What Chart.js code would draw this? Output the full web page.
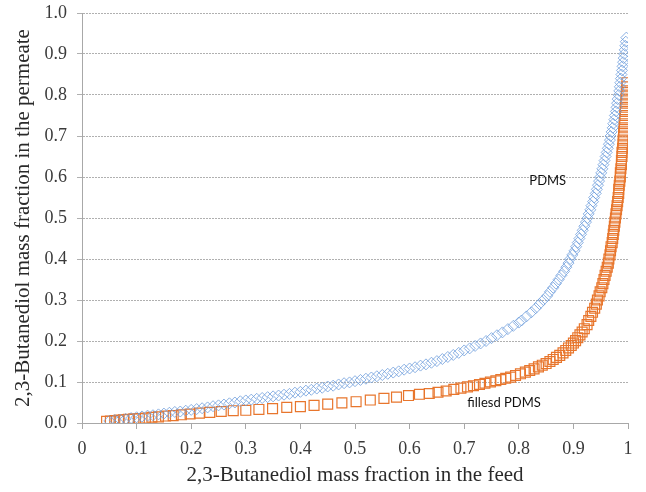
<!DOCTYPE html>
<html>
<head>
<meta charset="utf-8">
<script src="https://cdn.jsdelivr.net/npm/chart.js@4/dist/chart.umd.min.js"></script>
<style>
  html,body{margin:0;padding:0;background:#fff}
  #wrap{width:646px;height:492px}
</style>
</head>
<body>
<div id="wrap"><canvas id="chart"></canvas></div>
<script>
/* ---------- data: [feed, permeate] ---------- */
const pdms = [
  [0.05,.005],[0.06,.007],[0.07,.008],[0.08,.010],[0.09,.012],[0.10,.014],[0.11,.016],[0.12,.018],
  [0.13,.019],[0.14,.021],[0.15,.023],[0.16,.025],[0.17,.027],[0.18,.028],[0.19,.030],[0.20,.032],
  [0.21,.034],[0.22,.036],[0.23,.038],[0.24,.041],[0.25,.043],[0.26,.045],[0.27,.048],[0.28,.050],
  [0.29,.053],[0.30,.055],[0.31,.057],[0.32,.059],[0.33,.061],[0.34,.063],[0.35,.065],[0.36,.067],
  [0.37,.069],[0.38,.071],[0.39,.074],[0.40,.076],[0.41,.079],[0.42,.081],[0.43,.084],[0.44,.086],
  [0.45,.089],[0.46,.091],[0.47,.094],[0.48,.097],[0.49,.099],[0.50,.102],[0.51,.105],[0.52,.108],
  [0.53,.111],[0.54,.114],[0.55,.117],[0.56,.120],[0.57,.123],[0.58,.126],[0.59,.130],[0.60,.133],
  [0.61,.136],[0.62,.140],[0.63,.143],[0.64,.147],[0.65,.151],[0.66,.156],[0.67,.161],[0.68,.166],
  [0.69,.171],[0.70,.177],[0.71,.182],[0.72,.188],[0.73,.194],[0.74,.200],[0.75,.207],[0.76,.214],
  [0.77,.221],[0.78,.229],[0.79,.237],[0.80,.245],
  [.805,0.25],[.814,0.26],[.823,0.27],[.831,0.28],[.838,0.29],[.845,0.30],[.852,0.31],[.857,0.32],
  [.863,0.33],[.868,0.34],[.873,0.35],[.878,0.36],[.883,0.37],[.887,0.38],[.891,0.39],[.894,0.40],
  [.898,0.41],[.902,0.42],[.905,0.43],[.908,0.44],[.911,0.45],[.914,0.46],[.917,0.47],[.920,0.48],
  [.923,0.49],[.926,0.50],[.928,0.51],[.931,0.52],[.933,0.53],[.936,0.54],[.938,0.55],[.941,0.56],
  [.943,0.57],[.945,0.58],[.947,0.59],[.949,0.60],[.951,0.61],[.953,0.62],[.955,0.63],[.957,0.64],
  [.959,0.65],[.961,0.66],[.963,0.67],[.965,0.68],[.967,0.69],[.968,0.70],[.970,0.71],[.972,0.72],
  [.973,0.73],[.975,0.74],[.976,0.75],[.978,0.76],[.979,0.77],[.980,0.78],[.981,0.79],[.983,0.80],
  [.984,0.81],[.985,0.82],[.986,0.83],[.987,0.84],[.988,0.85],[.989,0.86],[.990,0.87],[.991,0.88],
  [.992,0.89],[.993,0.90],[.994,0.91],[.995,0.92],[.996,0.93],[.997,0.94]
];

const filledPdms = [
  [0.045,.004],[0.052,.005],[0.060,.006],[0.068,.007],[0.076,.008],[0.085,.009],[0.095,.010],[0.105,.011],
  [0.116,.012],[0.128,.014],[0.140,.015],[0.153,.017],[0.167,.018],[0.182,.020],[0.198,.022],[0.215,.024],
  [0.234,.026],[0.255,.028],[0.277,.030],[0.300,.031],[0.324,.033],[0.349,.035],[0.375,.038],[0.400,.040],
  [0.425,.043],[0.450,.046],[0.476,.049],[0.502,.052],[0.528,.056],[0.553,.060],[0.576,.063],[0.598,.067],
  [0.618,.070],[0.636,.072],[0.652,.075],[0.667,.078],[0.681,.082],[0.694,.085],[0.706,.088],[0.717,.091],
  [0.728,.094],[0.738,.097],[0.748,.100],[0.758,.103],[0.767,.106],[0.776,.109],[0.785,.112],[0.794,.116],
  [0.803,.120],[0.812,.124],[0.820,.128],[0.828,.132],[0.836,.137],[0.843,.141],[0.850,.145],[0.857,.150],
  [0.863,.155],[0.869,.160],[0.875,.165],[0.881,.171],[0.886,.177],[0.891,.183],[0.896,.189],[0.900,.195],
  [0.904,.201],[0.908,.208],[0.912,.215],[0.916,.222],[0.920,.230],
  [.925,0.24],[.928,0.25],[.932,0.26],[.935,0.27],[.939,0.28],[.942,0.29],[.944,0.30],[.947,0.31],
  [.949,0.32],[.952,0.33],[.954,0.34],[.956,0.35],[.958,0.36],[.960,0.37],[.962,0.38],[.964,0.39],
  [.965,0.40],[.967,0.41],[.968,0.42],[.969,0.43],[.971,0.44],[.972,0.45],[.973,0.46],[.974,0.47],
  [.975,0.48],[.976,0.49],[.977,0.50],[.978,0.51],[.979,0.52],[.980,0.53],[.981,0.54],[.982,0.55],
  [.983,0.56],[.983,0.57],[.984,0.58],[.985,0.59],[.986,0.60],[.986,0.61],[.987,0.62],[.988,0.63],
  [.988,0.64],[.989,0.65],[.989,0.66],[.990,0.67],[.991,0.68],[.991,0.69],[.992,0.70],[.992,0.71],
  [.993,0.72],[.993,0.73],[.994,0.74],[.994,0.75],[.995,0.76],[.995,0.77],[.996,0.78],[.996,0.79],
  [.997,0.80],[.997,0.81],[.998,0.82],[.998,0.83]
];

const xTicks = [0,0.1,0.2,0.3,0.4,0.5,0.6,0.7,0.8,0.9,1];
const yTicks = [0,0.1,0.2,0.3,0.4,0.5,0.6,0.7,0.8,0.9,1.0];

/* in-plot labels */
const notes = [
  {text:'PDMS',         x:0.853, y:0.590},
  {text:'fillesd PDMS', x:0.773, y:0.050}
];

const toPts = rows=>rows.map(([x,y])=>({x,y}));
const serif = '"Liberation Serif","Times New Roman",serif';

const notePlugin = {
  id:'notes',
  afterDatasetsDraw(chart){
    const {ctx, scales:{x, y}} = chart;
    ctx.save();
    ctx.font = '13px Lato, "Open Sans", sans-serif';
    ctx.fillStyle = '#111';
    ctx.textAlign = 'center';
    ctx.textBaseline = 'middle';
    notes.forEach(n=>ctx.fillText(n.text, x.getPixelForValue(n.x), y.getPixelForValue(n.y)));
    ctx.restore();
  }
};

new Chart(document.getElementById('chart'),{
  type:'scatter',
  data:{
    datasets:[
      {label:'PDMS', data:toPts(pdms), pointStyle:'rectRot', pointRadius:5.5,
       borderColor:'rgba(110,158,220,.8)', backgroundColor:'rgba(0,0,0,0)', borderWidth:1, pointHoverRadius:5.5},
      {label:'fillesd PDMS', data:toPts(filledPdms), pointStyle:'rect', pointRadius:7,
       borderColor:'#e8762d', backgroundColor:'rgba(0,0,0,0)', borderWidth:1.2, pointHoverRadius:7}
    ]
  },
  options:{
    responsive:true, maintainAspectRatio:false, animation:false,
    layout:{padding:{top:13,right:18,left:0,bottom:0}},
    plugins:{legend:{display:false}, tooltip:{enabled:false}},
    scales:{
      x:{
        type:'linear', min:0, max:1,
        afterBuildTicks:s=>{ s.ticks = xTicks.map(v=>({value:v})); },
        afterFit:s=>{ s.height = 69; s.paddingLeft = 0; s.paddingRight = 0; },
        ticks:{color:'#3a3a3a', font:{family:serif,size:18}, padding:9,
               callback:v=>String(Math.round(v*10)/10)},
        grid:{drawOnChartArea:false, drawTicks:true, tickLength:6, color:'#a8a8a8'},
        border:{display:true, color:'#a8a8a8'},
        title:{display:true, text:'2,3-Butanediol mass fraction in the feed', color:'#2a2a2a',
               font:{family:serif,size:21}, padding:{top:0,bottom:4}}
      },
      y:{
        min:0, max:1,
        afterBuildTicks:s=>{ s.ticks = yTicks.map(v=>({value:v})); },
        afterFit:s=>{ s.width = 82; s.paddingTop = 0; s.paddingBottom = 0; },
        ticks:{color:'#3a3a3a', font:{family:serif,size:18}, padding:10,
               callback:v=>v.toFixed(1)},
        grid:{color:'#b0b0b0', tickLength:5},
        border:{display:true, color:'#a8a8a8', dash:[2,1]},
        title:{display:true, text:'2,3-Butanediol mass fraction in the permeate', color:'#2a2a2a',
               font:{family:serif,size:21}, padding:{top:11,bottom:0}}
      }
    }
  },
  plugins:[notePlugin]
});
</script>
</body>
</html>
